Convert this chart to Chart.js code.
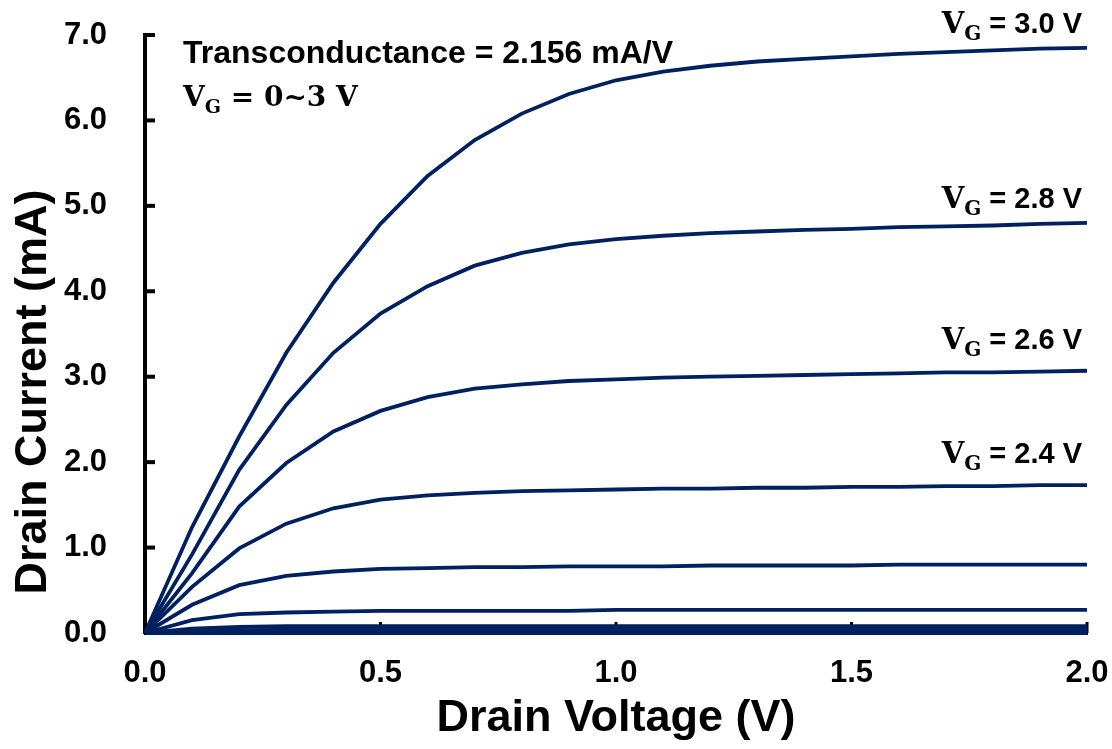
<!DOCTYPE html>
<html>
<head>
<meta charset="utf-8">
<script src="https://cdn.jsdelivr.net/npm/chart.js@4.4.1/dist/chart.umd.min.js"></script>
<style>
  html, body { margin: 0; padding: 0; background: #fff; }
  #idvd { display: block; }
</style>
</head>
<body>
<canvas id="idvd" width="1112" height="749"></canvas>
<script>
// drain voltage sweep (V)
const drainVoltage = [0, 0.1, 0.2, 0.3, 0.4, 0.5, 0.6, 0.7, 0.8, 0.9, 1.0,
	1.1, 1.2, 1.3, 1.4, 1.5, 1.6, 1.7, 1.8, 1.9, 2.0];

// drain current (mA) for each gate voltage
const idVg30 = [0, 1.24, 2.30, 3.28, 4.10, 4.79, 5.35, 5.77, 6.08, 6.31, 6.47,
	6.57, 6.64, 6.69, 6.72, 6.75, 6.78, 6.80, 6.82, 6.84, 6.85];
const idVg28 = [0, 0.92, 1.91, 2.67, 3.28, 3.74, 4.06, 4.30, 4.45, 4.55, 4.61,
	4.65, 4.68, 4.70, 4.72, 4.73, 4.75, 4.76, 4.77, 4.79, 4.80];
const idVg26 = [0, 0.70, 1.48, 1.99, 2.36, 2.60, 2.76, 2.86, 2.91, 2.95, 2.97,
	2.99, 3.00, 3.01, 3.02, 3.03, 3.04, 3.05, 3.05, 3.06, 3.07];
const idVg24 = [0, 0.54, 0.99, 1.28, 1.46, 1.56, 1.61, 1.64, 1.66, 1.67, 1.68,
	1.69, 1.69, 1.70, 1.70, 1.71, 1.71, 1.72, 1.72, 1.73, 1.73];
const idVg22 = [0, 0.33, 0.56, 0.67, 0.72, 0.75, 0.76, 0.77, 0.77, 0.78, 0.78,
	0.78, 0.79, 0.79, 0.79, 0.79, 0.80, 0.80, 0.80, 0.80, 0.80];
const idVg20 = [0, 0.15, 0.22, 0.24, 0.25, 0.26, 0.26, 0.26, 0.26, 0.26, 0.27,
	0.27, 0.27, 0.27, 0.27, 0.27, 0.27, 0.27, 0.27, 0.27, 0.27];
const idVg18 = [0, 0.05, 0.07, 0.08, 0.08, 0.08, 0.08, 0.08, 0.08, 0.08, 0.08,
	0.08, 0.08, 0.08, 0.08, 0.08, 0.08, 0.08, 0.08, 0.08, 0.08];
const idVg16 = [0, 0.02, 0.03, 0.04, 0.04, 0.04, 0.04, 0.04, 0.04, 0.04, 0.04,
	0.04, 0.04, 0.04, 0.04, 0.04, 0.04, 0.04, 0.04, 0.04, 0.04];
const idVgOff = [0, 0, 0, 0, 0, 0, 0, 0, 0, 0, 0,
	0, 0, 0, 0, 0, 0, 0, 0, 0, 0];

const gateVoltages = ["3.0", "2.8", "2.6", "2.4", "2.2", "2.0", "1.8", "1.6", "0"];
const drainCurrents = [idVg30, idVg28, idVg26, idVg24, idVg22, idVg20, idVg18, idVg16, idVgOff];
// curves that get a V_G label at their right end
const labelledGates = ["3.0", "2.8", "2.6", "2.4"];

const yTicks = [0, 1, 2, 3, 4, 5, 6, 7];
const xTicks = [0, 0.5, 1.0, 1.5, 2.0];

const LINE = "#002060";
const SANS = "'Liberation Sans', Arial, sans-serif";
const SERIF = "'DejaVu Serif', 'Liberation Serif', serif";

const datasets = gateVoltages.map(function (vg, i) {
	return {
		label: "VG = " + vg + " V",
		data: drainVoltage.map(function (v, j) { return { x: v, y: drainCurrents[i][j] }; }),
		borderColor: LINE,
		borderWidth: 3.8,
		pointRadius: 0,
		tension: 0,
		fill: false,
		clip: 6,
	};
});

// inward tick marks on both axes (drawn under the curves)
const inwardTicks = {
	id: "inwardTicks",
	beforeDatasetsDraw(chart) {
		const { ctx, chartArea: a, scales } = chart;
		ctx.save();
		ctx.strokeStyle = "#000";
		ctx.lineWidth = 4;
		yTicks.forEach(function (t) {
			const y = scales.y.getPixelForValue(t);
			ctx.beginPath();
			ctx.moveTo(a.left, y);
			ctx.lineTo(a.left + 10, y);
			ctx.stroke();
		});
		ctx.lineWidth = 3;
		xTicks.slice(1).forEach(function (t) {
			const x = scales.x.getPixelForValue(t);
			ctx.beginPath();
			ctx.moveTo(x, a.bottom);
			ctx.lineTo(x, a.bottom - 11);
			ctx.stroke();
		});
		ctx.restore();
	},
};

// V with a subscript G, followed by the rest of the text
function drawVg(ctx, x, y, size, rest, restFont) {
	ctx.font = "bold " + size + "px " + SERIF;
	const wV = ctx.measureText("V").width;
	ctx.font = "bold " + Math.round(size * 0.68) + "px " + SERIF;
	const wG = ctx.measureText("G").width;
	ctx.font = restFont;
	const wR = ctx.measureText(rest).width;
	return { width: wV + wG + wR, draw: function (left) {
		ctx.textAlign = "left";
		ctx.textBaseline = "alphabetic";
		ctx.font = "bold " + size + "px " + SERIF;
		ctx.fillText("V", left, y);
		ctx.font = "bold " + Math.round(size * 0.68) + "px " + SERIF;
		ctx.fillText("G", left + wV, y + size * 0.25);
		ctx.font = restFont;
		ctx.fillText(rest, left + wV + wG, y);
	} };
}

const annotations = {
	id: "annotations",
	afterDraw(chart) {
		const { ctx, chartArea: a, scales } = chart;
		ctx.save();
		ctx.fillStyle = "#000";

		// axis titles
		ctx.font = "bold 45px " + SANS;
		ctx.textAlign = "center";
		ctx.textBaseline = "alphabetic";
		ctx.fillText("Drain Voltage (V)", (a.left + a.right) / 2, 731);
		ctx.save();
		ctx.translate(46, 392);
		ctx.rotate(-Math.PI / 2);
		ctx.fillText("Drain Current (mA)", 0, 0);
		ctx.restore();

		// header notes
		ctx.textAlign = "left";
		ctx.font = "bold 32px " + SANS;
		ctx.fillText("Transconductance = 2.156 mA/V", 183, 63);
		drawVg(ctx, 0, 106, 28, " = 0~3 V", "bold 28px " + SERIF).draw(183);

		// gate voltage labels above the end of each curve; the lower two sit a bit higher
		labelledGates.forEach(function (vg, k) {
			const i = gateVoltages.indexOf(vg);
			const d = drainCurrents[i];
			const yEnd = scales.y.getPixelForValue(d[d.length - 1]);
			const xEnd = scales.x.getPixelForValue(drainVoltage[drainVoltage.length - 1]);
			const lift = k < 2 ? 15 : 22;
			const lbl = drawVg(ctx, 0, yEnd - lift, 29, " = " + vg + " V", "bold 29px " + SANS);
			lbl.draw(xEnd - 5 - lbl.width);
		});
		ctx.restore();
	},
};

const chart = new Chart(document.getElementById("idvd").getContext("2d"), {
	type: "line",
	data: { datasets: datasets },
	options: {
		responsive: false,
		animation: false,
		devicePixelRatio: 1,
		layout: { padding: { left: 0, top: 35, right: 25, bottom: 0 } },
		plugins: { legend: { display: false }, tooltip: { enabled: false } },
		scales: {
			x: {
				type: "linear",
				min: 0,
				max: 2,
				afterFit: function (s) { s.height = 116; s.paddingLeft = 0; s.paddingRight = 0; },
				afterBuildTicks: function (s) { s.ticks = xTicks.map(function (v) { return { value: v }; }); },
				ticks: {
					color: "#000",
					padding: 22,
					maxRotation: 0,
					font: { family: SANS, size: 31, weight: "bold" },
					callback: function (v) { return Number(v).toFixed(1); },
				},
				grid: { display: true, drawOnChartArea: false, drawTicks: false },
				border: { display: true, color: "#000", width: 3 },
			},
			y: {
				min: 0,
				max: 7,
				afterFit: function (s) { s.width = 145; s.paddingTop = 0; s.paddingBottom = 0; },
				afterBuildTicks: function (s) { s.ticks = yTicks.map(function (v) { return { value: v }; }); },
				ticks: {
					color: "#000",
					padding: 38,
					font: { family: SANS, size: 31, weight: "bold" },
					callback: function (v) { return Number(v).toFixed(1); },
				},
				grid: { display: true, drawOnChartArea: false, drawTicks: false },
				border: { display: true, color: "#000", width: 4 },
			},
		},
	},
	plugins: [inwardTicks, annotations],
});
</script>
</body>
</html>
